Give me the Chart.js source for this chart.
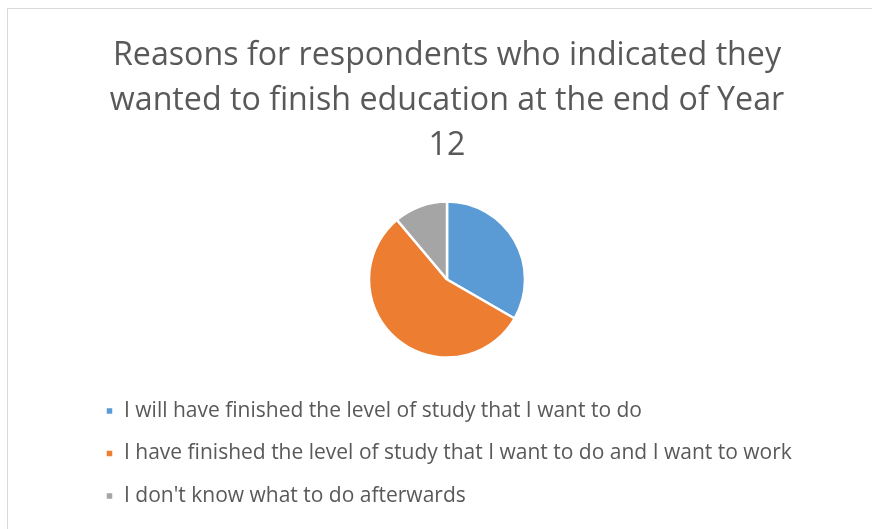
<!DOCTYPE html>
<html>
<head>
<meta charset="utf-8">
<script src="https://cdn.jsdelivr.net/npm/chart.js@4/dist/chart.umd.min.js"></script>
<style>
  html, body { margin: 0; padding: 0; background: #ffffff; overflow: hidden; width: 872px; height: 529px; }
  #frame { position: absolute; left: 7px; top: 8px; width: 878px; height: 530px; border: 1px solid #d9d9d9; box-sizing: border-box; background: #fff; }
  #wrap { position: absolute; left: 1px; top: 1px; width: 876px; height: 520px; }
</style>
</head>
<body>
<div id="frame"><div id="wrap"><canvas id="c"></canvas></div></div>
<script>
const titleLines = ["Reasons for respondents who indicated they", "wanted to finish education at the end of Year", "12"];
const categories = [
  "I will have finished the level of study that I want to do",
  "I have finished the level of study that I want to do and I want to work",
  "I don't know what to do afterwards"
];
const counts = [3, 5, 1];
const colors = ["#5B9BD5", "#ED7D31", "#A5A5A5"];

new Chart(document.getElementById('c'), {
  type: 'pie',
  data: {
    labels: categories,
    datasets: [{
      data: counts,
      backgroundColor: colors,
      borderColor: '#ffffff',
      borderWidth: 2.5,
      radius: 78
    }]
  },
  options: {
    responsive: true,
    maintainAspectRatio: false,
    animation: false,
    layout: { padding: { left: 75, right: 75, top: 0, bottom: 13.5 } },
    plugins: {
      tooltip: { enabled: false },
      title: {
        display: true,
        text: titleLines,
        color: '#595959',
        font: { family: 'Open Sans', size: 32.2, weight: 'normal', lineHeight: '45px' },
        padding: { top: 23.5, bottom: 11.5 }
      },
      legend: {
        display: true,
        position: 'bottom',
        align: 'start',
        labels: {
          color: '#595959',
          font: { family: 'Open Sans', size: 21 },
          boxWidth: 8,
          boxHeight: 8,
          padding: 21.5
        }
      }
    }
  }
});
</script>
</body>
</html>
